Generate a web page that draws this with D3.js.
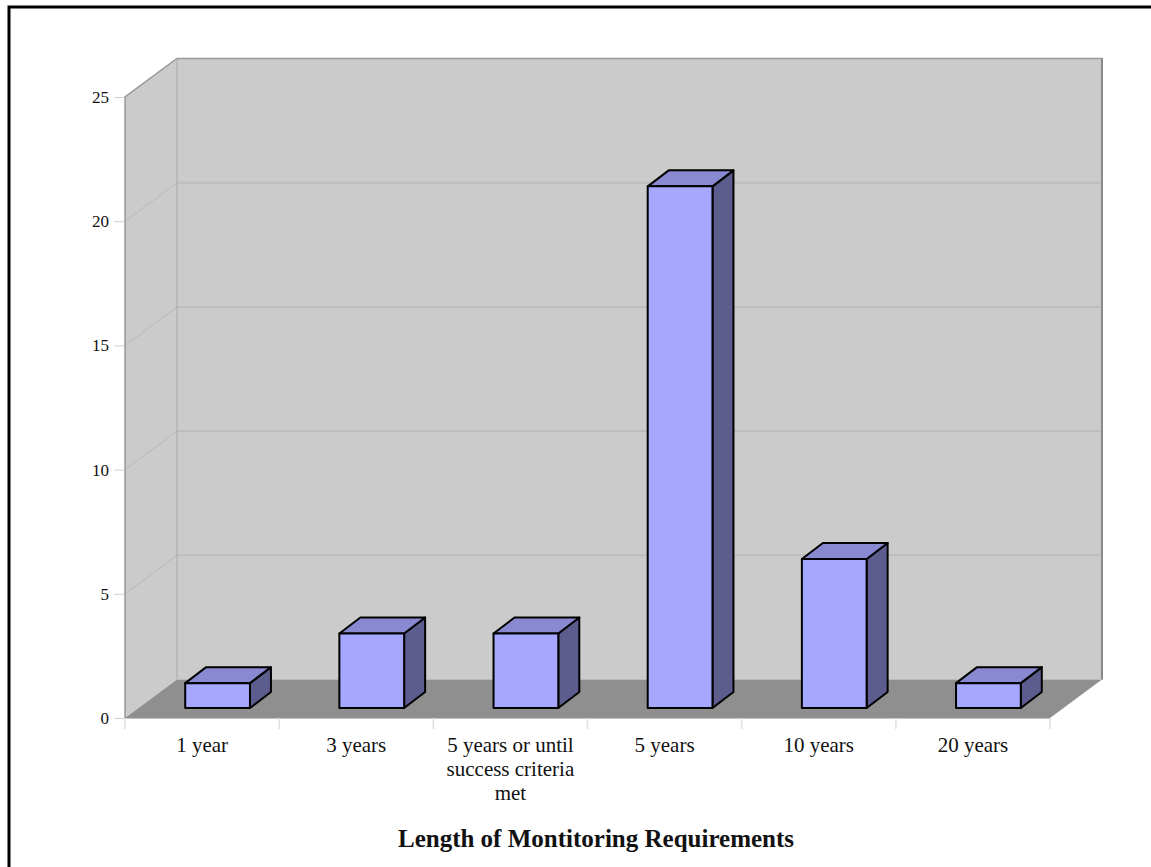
<!DOCTYPE html>
<html>
<head>
<meta charset="utf-8">
<script src="https://cdn.jsdelivr.net/npm/d3@7"></script>
<style>
  html, body { margin: 0; padding: 0; background: #ffffff; }
  svg { display: block; }
  text { font-family: "Liberation Serif", "Times New Roman", serif; fill: #111; }
</style>
</head>
<body>
<svg id="chart" width="1151" height="867"></svg>
<script>
// Data
const categories = ["1 year", "3 years", "5 years or until success criteria met", "5 years", "10 years", "20 years"];
const categoryLines = [["1 year"], ["3 years"], ["5 years or until", "success criteria", "met"], ["5 years"], ["10 years"], ["20 years"]];
const counts = [1, 3, 3, 21, 6, 1];
const yTicks = [0, 5, 10, 15, 20, 25];
const title = "Length of Montitoring Requirements";

const svg = d3.select("#chart");

// Outer frame
svg.append("rect")
  .attr("x", 9).attr("y", 7)
  .attr("width", 1180).attr("height", 900)
  .attr("fill", "#fff").attr("stroke", "#000").attr("stroke-width", 3);

// Plot geometry (front plane) and depth offset of the walls
const plotL = 125, plotR = 1050, plotB = 718, plotT = 97;
const depthX = 52, depthY = -38.5;

const x = d3.scaleBand().domain(categories).range([plotL, plotR]).padding(0);
const y = d3.scaleLinear().domain([0, 25]).range([plotB, plotT]);

const g = svg.append("g");

// Back wall
g.append("rect")
  .attr("x", plotL + depthX).attr("y", plotT + depthY)
  .attr("width", plotR - plotL).attr("height", plotB - plotT)
  .attr("fill", "#cbcbcb");

// Left wall
g.append("path")
  .attr("d", `M${plotL},${plotT} L${plotL + depthX},${plotT + depthY} L${plotL + depthX},${plotB + depthY} L${plotL},${plotB} Z`)
  .attr("fill", "#cbcbcb");

// Grid lines on the walls
yTicks.filter(t => t > 0 && t < 25).forEach(t => {
  const yy = y(t);
  g.append("line")
    .attr("x1", plotL + depthX).attr("x2", plotR + depthX)
    .attr("y1", yy + depthY).attr("y2", yy + depthY)
    .attr("stroke", "#bdbdbd").attr("stroke-width", 2);
  g.append("line")
    .attr("x1", plotL).attr("x2", plotL + depthX)
    .attr("y1", yy).attr("y2", yy + depthY)
    .attr("stroke", "#b8b8b8").attr("stroke-width", 1);
});

// Floor
g.append("path")
  .attr("d", `M${plotL},${plotB} L${plotL + depthX},${plotB + depthY} L${plotR + depthX},${plotB + depthY} L${plotR},${plotB} Z`)
  .attr("fill", "#8f8f8f");

// Wall edges
const edge = "#999999";
g.append("path")
  .attr("d", `M${plotL},${plotB} L${plotL},${plotT} L${plotL + depthX},${plotT + depthY} L${plotR + depthX},${plotT + depthY} L${plotR + depthX},${plotB + depthY}`)
  .attr("fill", "none").attr("stroke", edge).attr("stroke-width", 1.5);
g.append("line")
  .attr("x1", plotL + depthX).attr("x2", plotL + depthX)
  .attr("y1", plotT + depthY).attr("y2", plotB + depthY)
  .attr("stroke", "#a8a8a8").attr("stroke-width", 1);
g.append("line")
  .attr("x1", plotR + depthX).attr("x2", plotR + depthX)
  .attr("y1", plotT + depthY).attr("y2", plotB + depthY)
  .attr("stroke", "#8a8a8a").attr("stroke-width", 2);
g.append("line")
  .attr("x1", plotL).attr("x2", plotR)
  .attr("y1", plotB + 0.5).attr("y2", plotB + 0.5)
  .attr("stroke", "#c4c4c4").attr("stroke-width", 1);

// Y axis
const yAxis = d3.axisLeft(y).tickValues(yTicks).tickSize(10).tickPadding(5);
const ya = svg.append("g").attr("transform", `translate(${plotL - 1},0)`).call(yAxis);
ya.select(".domain").remove();
ya.selectAll(".tick line").attr("stroke", "#d0d0d0");
ya.selectAll(".tick text")
  .attr("font-size", 17).attr("fill", "#111")
  .style("font-family", '"Liberation Serif", serif');

// X axis ticks at category boundaries
const xa = svg.append("g");
const bounds = categories.map(c => x(c)).concat([plotR]);
xa.selectAll("line").data(bounds).join("line")
  .attr("x1", d => d).attr("x2", d => d)
  .attr("y1", plotB).attr("y2", plotB + 11)
  .attr("stroke", "#e0e0e0").attr("stroke-width", 1.5);

// Category labels
categories.forEach((c, i) => {
  const t = svg.append("text")
    .attr("x", x(c) + x.bandwidth() / 2)
    .attr("y", 752)
    .attr("text-anchor", "middle")
    .attr("font-size", 21);
  categoryLines[i].forEach((ln, j) => {
    t.append("tspan").attr("x", x(c) + x.bandwidth() / 2).attr("dy", j === 0 ? 0 : 24).text(ln);
  });
});

// 3D bars
const barW = x.bandwidth() * 0.42;
const shiftX = 15.5, shiftY = -10;   // bars sit partway into the floor depth
const bdx = 21, bdy = -16;            // bar depth
const frontCol = "#a6a8ff", topCol = "#8889d0", sideCol = "#5c5c8f";

const bars = g.append("g");
categories.forEach((c, i) => {
  const x0 = x(c) + (x.bandwidth() - barW) / 2 + shiftX;
  const x1 = x0 + barW;
  const yb = y(0) + shiftY;
  const yt = y(counts[i]) + shiftY;
  const bg = bars.append("g")
    .attr("stroke", "#000").attr("stroke-width", 2).attr("stroke-linejoin", "round");
  // side
  bg.append("path")
    .attr("d", `M${x1},${yt} L${x1 + bdx},${yt + bdy} L${x1 + bdx},${yb + bdy} L${x1},${yb} Z`)
    .attr("fill", sideCol);
  // top
  bg.append("path")
    .attr("d", `M${x0},${yt} L${x0 + bdx},${yt + bdy} L${x1 + bdx},${yt + bdy} L${x1},${yt} Z`)
    .attr("fill", topCol);
  // front
  bg.append("rect")
    .attr("x", x0).attr("y", yt)
    .attr("width", barW).attr("height", yb - yt)
    .attr("fill", frontCol);
});

// Title
svg.append("text")
  .attr("x", 596).attr("y", 847)
  .attr("text-anchor", "middle")
  .attr("font-size", 25).attr("font-weight", "bold")
  .text(title);
</script>
</body>
</html>
